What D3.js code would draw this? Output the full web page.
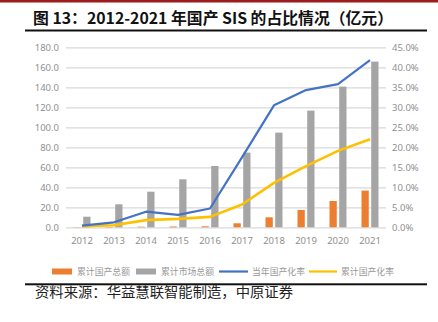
<!DOCTYPE html>
<html><head><meta charset="utf-8">
<script src="https://cdn.jsdelivr.net/npm/d3@7"></script>
<style>body{margin:0;background:#fff}svg{display:block}</style>
</head><body>
<script>
const years = ["2012","2013","2014","2015","2016","2017","2018","2019","2020","2021"];
const cumDomestic = [0.2,0.3,0.6,0.8,1.0,4.0,10.0,17.3,26.3,36.7];
const cumMarket = [10.6,23.0,35.6,48.0,61.3,74.7,94.7,116.7,140.7,165.7];
const annualRate = [0.004,0.0125,0.039,0.031,0.047,0.175,0.305,0.343,0.358,0.418];
const cumRate = [0.003,0.005,0.018,0.021,0.026,0.057,0.111,0.153,0.191,0.22];
const leftTicks = [0,20,40,60,80,100,120,140,160,180];
const rightTicks = [0,0.05,0.10,0.15,0.20,0.25,0.30,0.35,0.40,0.45];
const seriesNames = ["累计国产总额","累计市场总额","当年国产化率","累计国产化率"];
const titleText = "图 13：2012-2021 年国产 SIS 的占比情况（亿元）";
const sourceText = "资料来源：华益慧联智能制造，中原证券";

const W=438,H=322;
const svg=d3.select("body").append("svg").attr("width",W).attr("height",H);
const cjk="'Noto Sans CJK SC','Noto Sans',sans-serif";
const C={dom:"#ED7D31",mkt:"#A5A5A5",ann:"#4472C4",cum:"#FFC000",lab:"#8f8f8f",grid:"#d9d9d9"};

// header
svg.append("rect").attr("x",0).attr("y",0).attr("width",W).attr("height",2.5).attr("fill","#9b1c1c");
svg.append("text").attr("x",33).attr("y",24).attr("font-family",cjk).attr("font-weight","bold")
  .attr("font-size",15.5).attr("fill","#111").attr("textLength",360).attr("lengthAdjust","spacingAndGlyphs").text(titleText);
svg.append("rect").attr("x",25).attr("y",29.5).attr("width",402).attr("height",2).attr("fill","#111");

const x=d3.scaleBand().domain(years).range([66,386]);
const xi=d3.scaleBand().domain(["dom","mkt"]).range([-8.5,8.5]).paddingInner(0.25);
const yL=d3.scaleLinear().domain([0,180]).range([227.3,47.3]);
const yR=d3.scaleLinear().domain([0,0.45]).range([227.3,47.3]);
const cx=d=>x(d)+x.bandwidth()/2;

// grid
const grid=svg.append("g").attr("transform","translate(66,0)")
  .call(d3.axisLeft(yL).tickValues(leftTicks).tickSize(-320).tickFormat(""));
grid.select(".domain").remove();
grid.selectAll("line").attr("stroke",C.grid).attr("stroke-width",1.2);

// left axis labels
const la=svg.append("g").attr("transform","translate(66,0)")
  .call(d3.axisLeft(yL).tickValues(leftTicks).tickSize(0).tickPadding(7).tickFormat(d3.format(".1f")));
la.select(".domain").remove();
la.selectAll("text").attr("fill",C.lab).attr("font-family","'Noto Sans',sans-serif").attr("font-size",9.5);

// right axis labels
const ra=svg.append("g").attr("transform","translate(386,0)")
  .call(d3.axisRight(yR).tickValues(rightTicks).tickSize(0).tickPadding(6).tickFormat(d3.format(".1%")));
ra.select(".domain").remove();
ra.selectAll("text").attr("fill",C.lab).attr("font-family","'Noto Sans',sans-serif").attr("font-size",9.5);

// x axis labels
const xa=svg.append("g").attr("transform","translate(0,227.3)")
  .call(d3.axisBottom(x).tickSize(0).tickPadding(10));
xa.select(".domain").remove();
xa.selectAll("text").attr("fill",C.lab).attr("font-family","'Noto Sans',sans-serif").attr("font-size",9.5);

// bars
svg.append("g").selectAll("rect").data(years).join("rect")
  .attr("x",d=>cx(d)+xi("dom")).attr("width",xi.bandwidth())
  .attr("y",(d,i)=>yL(cumDomestic[i])).attr("height",(d,i)=>yL(0)-yL(cumDomestic[i]))
  .attr("fill",C.dom);
svg.append("g").selectAll("rect").data(years).join("rect")
  .attr("x",d=>cx(d)+xi("mkt")).attr("width",xi.bandwidth())
  .attr("y",(d,i)=>yL(cumMarket[i])).attr("height",(d,i)=>yL(0)-yL(cumMarket[i]))
  .attr("fill",C.mkt);

// lines
const line=d3.line().x(d=>cx(d[0])).y(d=>yR(d[1]));
svg.append("path").datum(years.map((y,i)=>[y,cumRate[i]])).attr("d",line)
  .attr("fill","none").attr("stroke",C.cum).attr("stroke-width",2.6).attr("stroke-linejoin","round");
svg.append("path").datum(years.map((y,i)=>[y,annualRate[i]])).attr("d",line)
  .attr("fill","none").attr("stroke",C.ann).attr("stroke-width",2.2).attr("stroke-linejoin","round");

// legend
const lg=svg.append("g").attr("font-family",cjk).attr("font-size",9).attr("fill","#999");
const items=[
  {t:"rect",c:C.dom,sx:52,sw:20,tx:77},
  {t:"rect",c:C.mkt,sx:136,sw:20,tx:161},
  {t:"line",c:C.ann,sx:219,sw:29,tx:252},
  {t:"line",c:C.cum,sx:309,sw:28,tx:341}
];
items.forEach((it,i)=>{
  if(it.t==="rect") lg.append("rect").attr("x",it.sx).attr("y",268.5).attr("width",it.sw).attr("height",6).attr("fill",it.c);
  else lg.append("line").attr("x1",it.sx).attr("x2",it.sx+it.sw).attr("y1",271.5).attr("y2",271.5).attr("stroke",it.c).attr("stroke-width",2.2);
  lg.append("text").attr("x",it.tx).attr("y",275).attr("textLength",53).attr("lengthAdjust","spacingAndGlyphs").text(seriesNames[i]);
});

// footer
svg.append("rect").attr("x",25).attr("y",283.3).attr("width",402).attr("height",2).attr("fill","#111");
svg.append("text").attr("x",35).attr("y",297).attr("font-family",cjk).attr("font-size",13.5).attr("fill","#222")
  .attr("textLength",258).attr("lengthAdjust","spacingAndGlyphs").text(sourceText);
</script>
</body></html>
